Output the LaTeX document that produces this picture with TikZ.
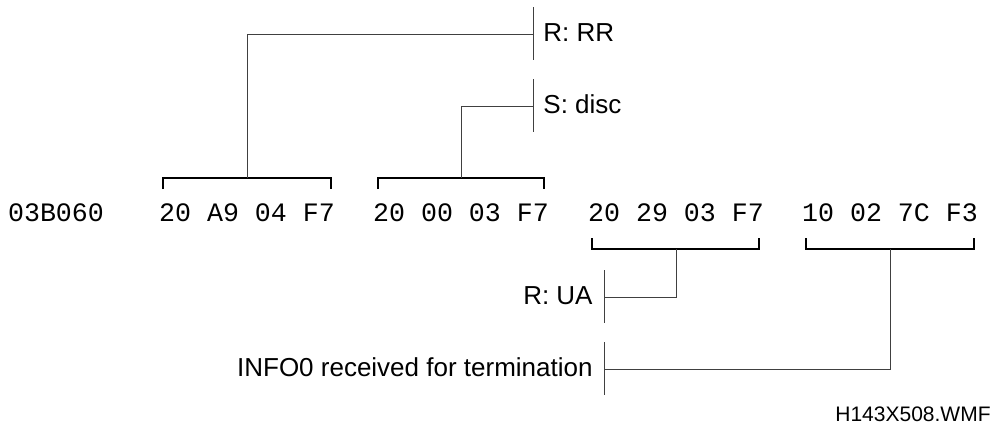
\documentclass[tikz,border=0pt]{standalone}
\usepackage{fontspec}
\setmainfont{Liberation Sans}
\setmonofont{Liberation Mono}
\usetikzlibrary{positioning,calc}

\begin{document}
\begin{tikzpicture}[
  x=0.5pt, y=-0.5pt,
  hex/.style={font=\fontsize{13.3}{16}\selectfont\ttfamily, inner sep=0pt, anchor=base},
  tag/.style={font=\fontsize{13}{16}\selectfont, inner sep=0pt},
  brace/.style={line width=1pt, draw=black},
  link/.style={line width=0.5pt, draw=black!75}
]
\useasboundingbox (0,0) rectangle (1000,428);

% Byte row
\node[hex] (addr) at (56,221)  {03B060};
\node[hex] (g1)   at (247,221) {20 A9 04 F7};
\node[hex] (g2)   at (461,221) {20 00 03 F7};
\node[hex] (g3)   at (676,221) {20 29 03 F7};
\node[hex] (g4)   at (890,221) {10 02 7C F3};

% Bracket midpoints (above / below the bytes)
\coordinate (b1) at ($(g1.base)+(0,-43)$);
\coordinate (b2) at ($(g2.base)+(0,-43)$);
\coordinate (b3) at ($(g3.base)+(0,28)$);
\coordinate (b4) at ($(g4.base)+(0,28)$);

% Brackets
\draw[brace] ($(b1)+(-84,11)$) -- ++(0,-11) -- ++(168,0) -- ++(0,11);
\draw[brace] ($(b2)+(-83,11)$) -- ++(0,-11) -- ++(166,0) -- ++(0,11);
\draw[brace] ($(b3)+(-84,-11)$) -- ++(0,11) -- ++(167,0) -- ++(0,-11);
\draw[brace] ($(b4)+(-84,-11)$) -- ++(0,11) -- ++(168,0) -- ++(0,-11);

% Pins of the labels
\coordinate (rrpin) at (533,34);
\coordinate (scpin) at (533,106);
\coordinate (uapin) at (604,297);
\coordinate (inpin) at (604,369);
\foreach \p in {rrpin,scpin,uapin,inpin}
  \draw[link] ($(\p)+(0,-27)$) -- ($(\p)+(0,26)$);

% Labels
\node[tag, anchor=base west] (rr)   at ($(rrpin)+(10,7)$)  {R: RR};
\node[tag, anchor=base west] (sc)   at ($(scpin)+(10,7)$)  {S: disc};
\node[tag, anchor=base east] (ua)   at ($(uapin)+(-11,7)$) {R: UA};
\node[tag, anchor=base east] (info) at ($(inpin)+(-11,7)$) {INFO0 received for termination};

% Connectors
\draw[link] (b1) |- (rrpin);
\draw[link] (b2) |- (scpin);
\draw[link] (b3) |- (uapin);
\draw[link] (b4) |- (inpin);

% File name
\node[font=\fontsize{10.5}{12}\selectfont, inner sep=0pt, anchor=base east] (fname) at (991,421) {H143X508.WMF};
\end{tikzpicture}
\end{document}
